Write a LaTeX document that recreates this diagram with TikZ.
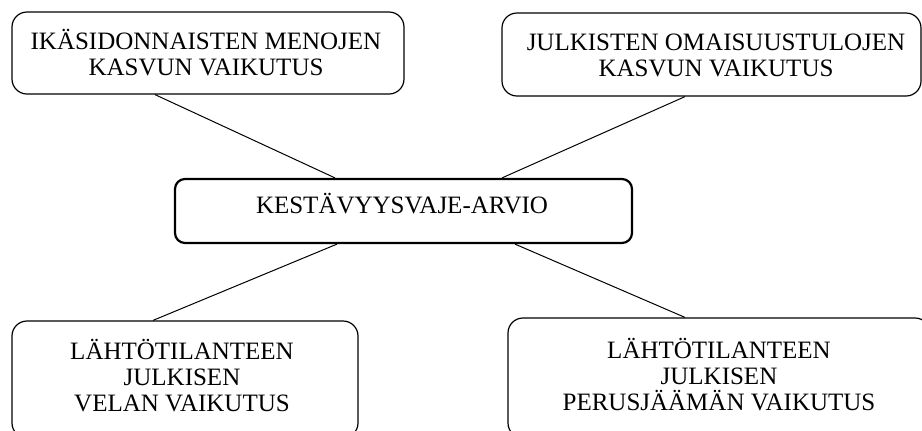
\documentclass[tikz,border=0pt]{standalone}
\usepackage{fontspec}
\setmainfont{Liberation Serif}
\usetikzlibrary{calc}
\tikzset{
  box/.style={draw=black, line width=0.6pt, rounded corners=7.5pt, inner sep=0pt},
  mainbox/.style={draw=black, line width=1.1pt, rounded corners=5pt, inner sep=0pt},
  txt/.style={align=center, inner sep=0pt, anchor=base, font=\fontsize{12.5pt}{12.9pt}\selectfont},
  conn/.style={draw=black, line width=0.5pt}
}
\begin{document}
\begin{tikzpicture}[x=0.5pt,y=-0.5pt]
\useasboundingbox (0,0) rectangle (922,430);
\clip (0,0) rectangle (922,430);
% boxes
\node[box, minimum width=196pt, minimum height=41pt] (b1) at (208,53) {};
\node[box, minimum width=209.5pt, minimum height=41.5pt] (b2) at (711.5,54.5) {};
\node[mainbox, minimum width=228.5pt, minimum height=32pt] (c) at (403.5,211) {};
\node[box, minimum width=173pt, minimum height=58.5pt] (b3) at (185,379.5) {};
\node[box, minimum width=211pt, minimum height=60pt] (b4) at (719,378) {};
% texts (anchor base = baseline of last line)
\node[txt] (t1) at (206,75) {IKÄSIDONNAISTEN MENOJEN\\KASVUN VAIKUTUS};
\node[txt] (t2) at (716,76) {JULKISTEN OMAISUUSTULOJEN\\KASVUN VAIKUTUS};
\node[txt] (tc) at (402,213) {KESTÄVYYSVAJE-ARVIO};
\node[txt] (t3) at (182,411) {LÄHTÖTILANTEEN\\JULKISEN\\VELAN VAIKUTUS};
\node[txt] (t4) at (719,410) {LÄHTÖTILANTEEN\\JULKISEN\\PERUSJÄÄMÄN VAIKUTUS};
% connectors
\draw[conn] ($(b1.south west)!(155,0)!(b1.south east)$) -- ($(c.north west)!(335,0)!(c.north east)$);
\draw[conn] ($(b2.south west)!(685,0)!(b2.south east)$) -- ($(c.north west)!(502,0)!(c.north east)$);
\draw[conn] ($(c.south west)!(337,0)!(c.south east)$) -- ($(b3.north west)!(153,0)!(b3.north east)$);
\draw[conn] ($(c.south west)!(515,0)!(c.south east)$) -- ($(b4.north west)!(685,0)!(b4.north east)$);
\end{tikzpicture}
\end{document}
